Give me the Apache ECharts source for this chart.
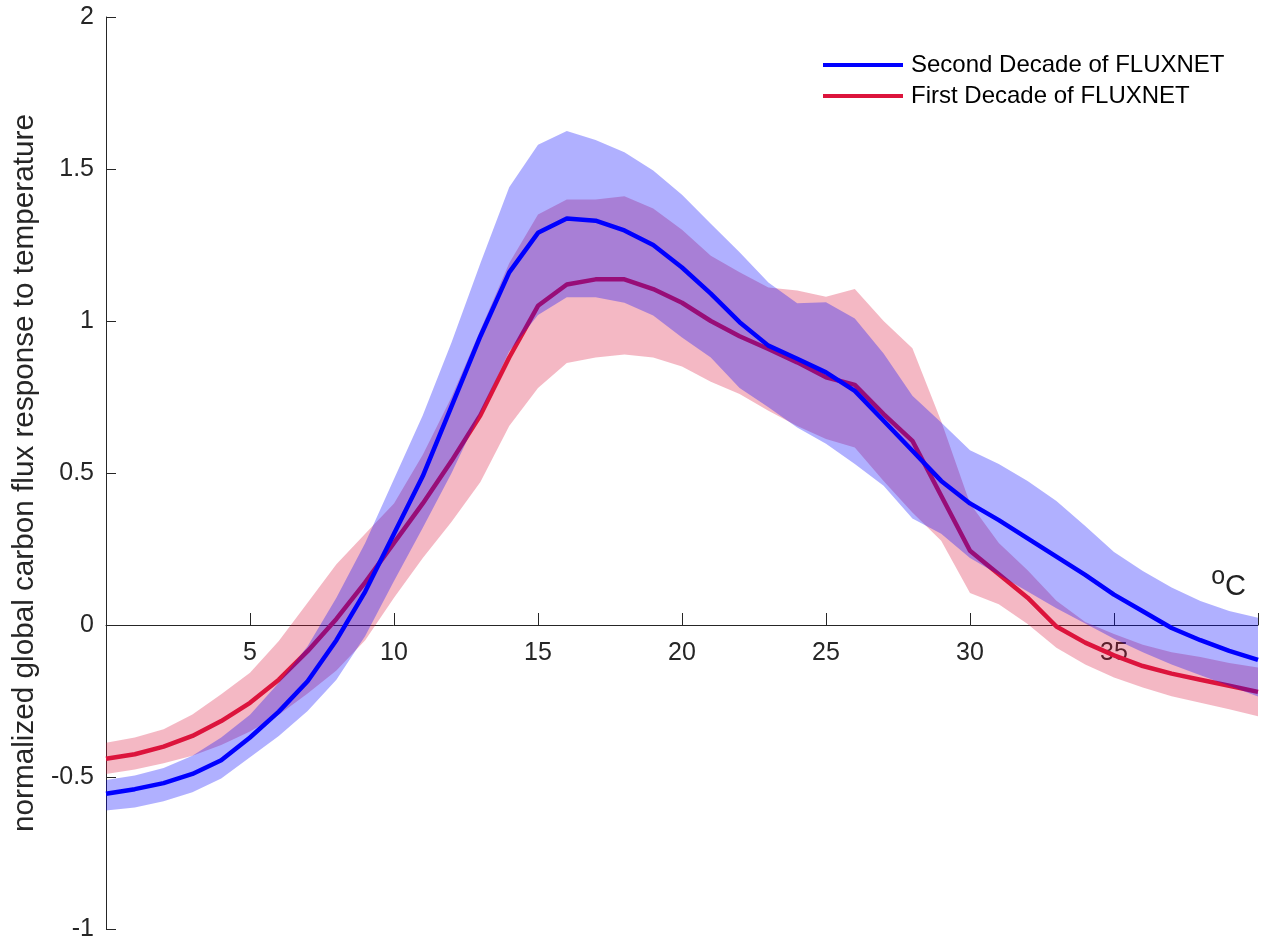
<!DOCTYPE html>
<html>
<head>
<meta charset="utf-8">
<script src="https://cdn.jsdelivr.net/npm/echarts@6/dist/echarts.min.js"></script>
<style>
html,body{margin:0;padding:0;background:#fff;}
#c{width:1263px;height:941px;}
</style>
</head>
<body>
<div id="c"></div>
<script>
// temperature (°C)
var temps = [0,1,2,3,4,5,6,7,8,9,10,11,12,13,14,15,16,17,18,19,20,21,22,23,24,25,26,27,28,29,30,31,32,33,34,35,36,37,38,39,40];

// Second Decade of FLUXNET
var secondMean = [-0.555,-0.54,-0.52,-0.49,-0.445,-0.37,-0.285,-0.185,-0.05,0.11,0.30,0.49,0.72,0.95,1.16,1.29,1.337,1.33,1.298,1.25,1.176,1.09,0.996,0.919,0.876,0.831,0.77,0.672,0.573,0.474,0.40,0.345,0.285,0.225,0.165,0.10,0.045,-0.01,-0.05,-0.085,-0.115];
var secondUpper = [-0.51,-0.495,-0.47,-0.43,-0.37,-0.295,-0.19,-0.07,0.09,0.27,0.48,0.69,0.93,1.19,1.44,1.58,1.625,1.595,1.555,1.495,1.415,1.32,1.226,1.127,1.058,1.062,1.008,0.893,0.754,0.666,0.575,0.53,0.474,0.408,0.326,0.24,0.178,0.123,0.079,0.046,0.024];
var secondLower = [-0.61,-0.60,-0.58,-0.55,-0.505,-0.435,-0.365,-0.283,-0.18,-0.036,0.145,0.32,0.50,0.70,0.90,1.02,1.078,1.078,1.06,1.018,0.946,0.88,0.78,0.716,0.65,0.596,0.53,0.458,0.35,0.30,0.22,0.165,0.11,0.055,0.005,-0.045,-0.09,-0.13,-0.165,-0.20,-0.235];

// First Decade of FLUXNET
var firstMean = [-0.44,-0.425,-0.40,-0.365,-0.316,-0.256,-0.18,-0.086,0.02,0.14,0.27,0.40,0.54,0.69,0.88,1.05,1.12,1.137,1.137,1.105,1.06,1.0,0.95,0.908,0.864,0.815,0.79,0.694,0.606,0.425,0.244,0.167,0.09,-0.005,-0.058,-0.10,-0.135,-0.16,-0.18,-0.20,-0.22];
var firstUpper = [-0.387,-0.37,-0.343,-0.294,-0.228,-0.157,-0.053,0.073,0.2,0.3,0.40,0.56,0.75,0.97,1.19,1.35,1.40,1.40,1.41,1.37,1.30,1.215,1.16,1.11,1.10,1.08,1.105,1.0,0.91,0.67,0.40,0.27,0.18,0.08,0.01,-0.03,-0.065,-0.09,-0.105,-0.125,-0.14];
var firstLower = [-0.49,-0.475,-0.455,-0.43,-0.395,-0.35,-0.295,-0.225,-0.15,-0.05,0.09,0.22,0.34,0.47,0.655,0.78,0.862,0.88,0.89,0.88,0.85,0.80,0.76,0.705,0.655,0.612,0.584,0.474,0.37,0.277,0.105,0.068,0.003,-0.075,-0.13,-0.173,-0.206,-0.234,-0.256,-0.277,-0.30];

var yTicks = [-1,-0.5,0,0.5,1,1.5,2];
var xTickLabels = ['5','10','15','20','25','30','35'];

var nameSecond = 'Second Decade of FLUXNET';
var nameFirst = 'First Decade of FLUXNET';

function pairs(arr){ return temps.map(function(t,i){ return [t, arr[i]]; }); }

var FONT = 'Liberation Sans, Arial, Helvetica, sans-serif';
var AX = '#262626';

// layout
var W = 1263, H = 941;
var G = {left:106, right:5, top:17, bottom:12};
var Y_MIN = -1, Y_MAX = 2;
// x axis sits on y = 0: shift it up from the grid bottom by the share of the y range below zero
var xAxisOffset = -(H - G.top - G.bottom) * (0 - Y_MIN) / (Y_MAX - Y_MIN);

// shaded band drawn as one polygon through the chart's own coordinate system
function band(name, up, lo, color, z){
  return {
    name:name, type:'custom', silent:true, z:z, clip:true,
    data:[[temps[0], up[0]]],
    renderItem:function(params, api){
      var pts = [];
      for (var i=0;i<temps.length;i++) pts.push(api.coord([temps[i], up[i]]));
      for (var j=temps.length-1;j>=0;j--) pts.push(api.coord([temps[j], lo[j]]));
      return {type:'polygon', shape:{points:pts}, style:{fill:color, stroke:null}};
    }
  };
}

var chart = echarts.init(document.getElementById('c'), null, {renderer:'canvas'});
chart.setOption({
  animation:false,
  backgroundColor:'#fff',
  textStyle:{fontFamily:FONT},
  grid:{left:G.left, right:G.right, top:G.top, bottom:G.bottom, containLabel:false, outerBoundsMode:'none'},
  legend:{
    data:[nameSecond, nameFirst],
    orient:'vertical', left:823, top:52,
    icon:'rect', itemWidth:80, itemHeight:4, itemGap:5,
    padding:0,
    textStyle:{fontSize:24, lineHeight:26, color:'#000', fontFamily:FONT, padding:[0,0,0,3]}
  },
  xAxis:{
    type:'value', min:0, max:40, interval:5,
    position:'bottom', offset:xAxisOffset,
    axisLine:{onZero:false, lineStyle:{color:AX, width:1}},
    axisTick:{inside:true, length:12, lineStyle:{color:AX}},
    splitLine:{show:false},
    axisLabel:{show:true, fontSize:25, color:AX, margin:16, fontFamily:FONT,
      formatter:function(v){ var s = String(+v); return xTickLabels.indexOf(s) >= 0 ? s : ''; }},
    name:'{o|o}{c|C}', nameLocation:'end', nameGap:-12,
    nameTextStyle:{align:'right', verticalAlign:'bottom', padding:[0,0,24,0],
      rich:{o:{fontSize:25, color:'#222', fontFamily:FONT, verticalAlign:'top', lineHeight:22},
            c:{fontSize:29, color:'#222', fontFamily:FONT, verticalAlign:'bottom', lineHeight:36}}}
  },
  yAxis:{
    type:'value', min:Y_MIN, max:Y_MAX, interval:0.5,
    axisLine:{show:true, onZero:false, lineStyle:{color:AX, width:1}},
    axisTick:{show:true, inside:true, length:10, lineStyle:{color:AX}},
    splitLine:{show:false},
    axisLabel:{fontSize:25, color:AX, margin:12, fontFamily:FONT,
      formatter:function(v){ for (var i=0;i<yTicks.length;i++){ if (Math.abs(yTicks[i]-v)<1e-9) return String(yTicks[i]); } return ''; }},
    name:'normalized global carbon flux response to temperature',
    nameLocation:'middle', nameGap:66, nameRotate:90,
    nameTextStyle:{fontSize:29.7, color:AX, fontFamily:FONT}
  },
  series:[
    band('firstBand', firstUpper, firstLower, 'rgba(220,20,60,0.3)', 2),
    {name:nameFirst, type:'line', data:pairs(firstMean), symbol:'none', showSymbol:false, z:3,
     lineStyle:{color:'#DC143C', width:4.5}, itemStyle:{color:'#DC143C'}},
    band('secondBand', secondUpper, secondLower, 'rgba(0,0,255,0.31)', 4),
    {name:nameSecond, type:'line', data:pairs(secondMean), symbol:'none', showSymbol:false, z:5,
     lineStyle:{color:'#0000FF', width:4.5}, itemStyle:{color:'#0000FF'}}
  ]
});
</script>
</body>
</html>
